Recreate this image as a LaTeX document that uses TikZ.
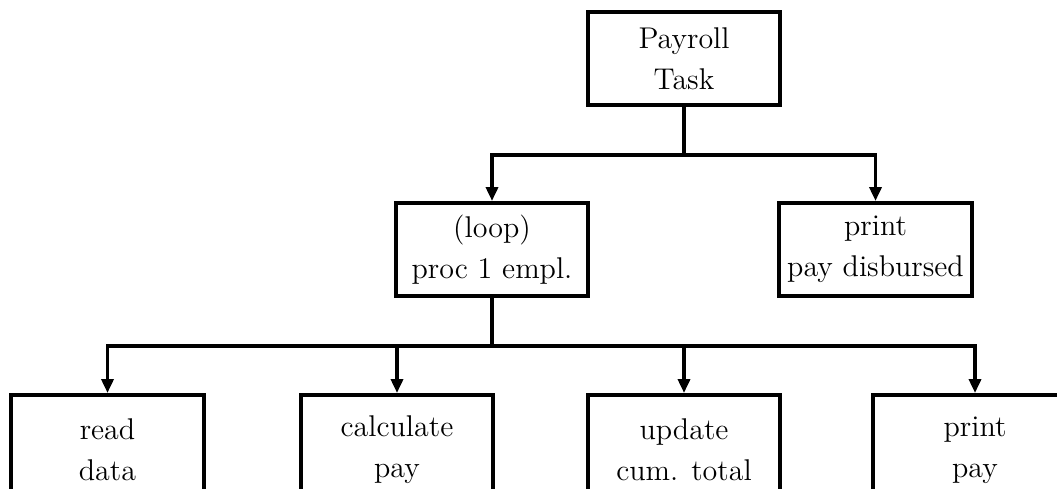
\documentclass[tikz,border=0pt]{standalone}
\usepackage{tikz}
\usetikzlibrary{arrows.meta,positioning}

\begin{document}
\begin{tikzpicture}[x=0.4pt,y=-0.4pt,
  taskbox/.style={rectangle, draw, line width=1.6pt, minimum width=77pt, minimum height=37.2pt, inner sep=0pt, align=center, font=\fontsize{12}{16.5}\selectfont},
  cutbox/.style={taskbox, minimum height=44pt},
  link/.style={line width=1.4pt},
  tolink/.style={link, -{Triangle[length=5.6pt,width=4.8pt]}}]
\useasboundingbox (0,0) rectangle (1057,488);
\clip (0,0) rectangle (1057,488);
% top level
\node[taskbox] (task) at (684,58.5) {Payroll\\Task};
% second level
\node[taskbox] (loop) at (492,249.5) {(loop)\\proc 1 empl.};
\node[taskbox] (disb) at (875.5,249.5) {print\\pay disbursed};
% third level, cut off by the page edge
\node[cutbox] (read) at (107.5,450) {read\\data};
\node[cutbox] (calc) at (397,450) {calculate\\pay};
\node[cutbox] (upd) at (684,450) {update\\cum. total};
\node[cutbox, minimum width=82pt] (prt) at (975,450) {print\\pay};
% connectors
\coordinate (bar1) at (684,155);
\coordinate (bar2) at (492,346);
\draw[link] (task.south) -- (bar1);
\draw[tolink] (bar1) -| (loop.north);
\draw[tolink] (bar1) -| (disb.north);
\draw[link] (loop.south) -- (bar2);
\draw[tolink] (bar2) -| (read.north);
\draw[tolink] (bar2) -| (calc.north);
\draw[tolink] (bar2) -| (upd.north);
\draw[tolink] (bar2) -| (prt.north);
\end{tikzpicture}
\end{document}
